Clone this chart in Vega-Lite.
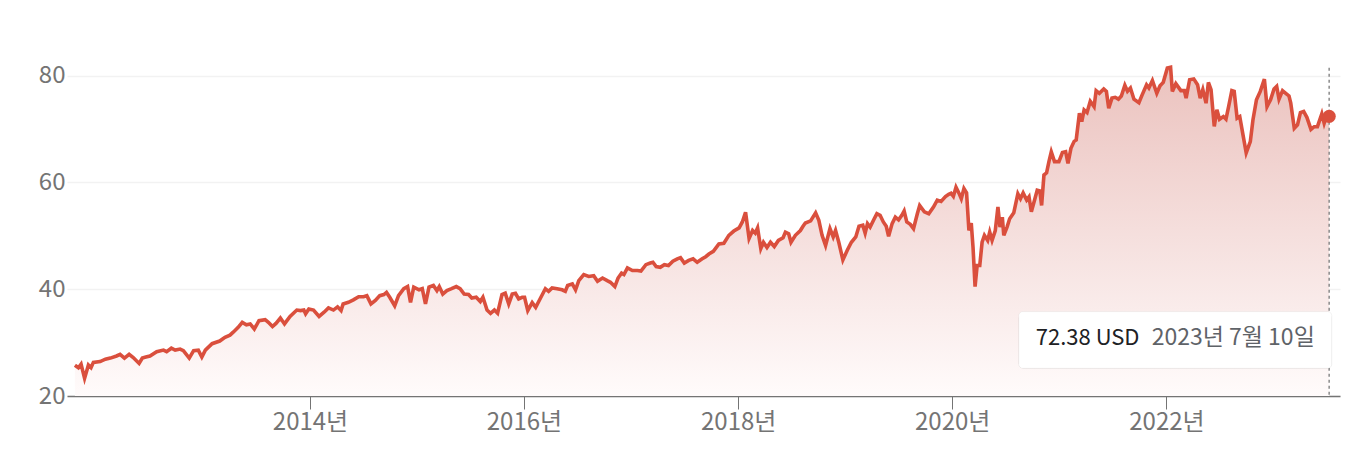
{
  "$schema": "https://vega.github.io/schema/vega-lite/v6.json",
  "width": 1273,
  "height": 347,
  "autosize": {"type": "none"},
  "padding": {"left": 67, "top": 49, "right": 14, "bottom": 54},
  "background": "#ffffff",
  "config": {"view": {"stroke": null}, "font": "Noto Sans CJK KR"},
  "datasets": {
    "prices": [
      {"date":"2011-10-22","price":25.77},{"date":"2011-11-03","price":25.3},{"date":"2011-11-12","price":25.96},{"date":"2011-11-24","price":23.3},
      {"date":"2011-12-07","price":25.8},{"date":"2011-12-16","price":25.3},{"date":"2011-12-24","price":26.3},{"date":"2012-01-16","price":26.45},
      {"date":"2012-02-03","price":26.9},{"date":"2012-02-20","price":27.1},{"date":"2012-03-12","price":27.5},{"date":"2012-03-24","price":27.8},
      {"date":"2012-04-08","price":27.1},{"date":"2012-04-24","price":27.8},{"date":"2012-05-08","price":27.2},{"date":"2012-05-28","price":26.1},
      {"date":"2012-06-08","price":27.1},{"date":"2012-06-20","price":27.3},{"date":"2012-07-04","price":27.5},{"date":"2012-07-27","price":28.3},
      {"date":"2012-08-19","price":28.6},{"date":"2012-08-30","price":28.3},{"date":"2012-09-15","price":28.95},{"date":"2012-09-28","price":28.6},
      {"date":"2012-10-15","price":28.8},{"date":"2012-10-26","price":28.5},{"date":"2012-11-15","price":27.1},{"date":"2012-11-30","price":28.5},
      {"date":"2012-12-16","price":28.6},{"date":"2012-12-28","price":27.3},{"date":"2013-01-09","price":28.6},{"date":"2013-02-01","price":29.8},
      {"date":"2013-02-27","price":30.3},{"date":"2013-03-17","price":31.0},{"date":"2013-04-03","price":31.4},{"date":"2013-04-15","price":32.0},
      {"date":"2013-05-01","price":32.85},{"date":"2013-05-15","price":33.8},{"date":"2013-05-29","price":33.35},{"date":"2013-06-11","price":33.5},
      {"date":"2013-06-25","price":32.55},{"date":"2013-07-11","price":34.1},{"date":"2013-08-01","price":34.3},{"date":"2013-08-12","price":33.8},
      {"date":"2013-08-26","price":33.0},{"date":"2013-09-07","price":33.6},{"date":"2013-09-22","price":34.6},{"date":"2013-10-06","price":33.5},
      {"date":"2013-10-25","price":34.9},{"date":"2013-11-17","price":36.1},{"date":"2013-11-30","price":36.0},{"date":"2013-12-11","price":36.1},
      {"date":"2013-12-17","price":35.4},{"date":"2013-12-28","price":36.3},{"date":"2014-01-13","price":36.1},{"date":"2014-02-01","price":34.9},
      {"date":"2014-02-18","price":35.7},{"date":"2014-03-05","price":36.5},{"date":"2014-03-22","price":36.1},{"date":"2014-04-05","price":36.7},
      {"date":"2014-04-17","price":36.0},{"date":"2014-04-24","price":37.25},{"date":"2014-05-12","price":37.55},{"date":"2014-05-29","price":38.0},
      {"date":"2014-06-16","price":38.6},{"date":"2014-07-03","price":38.6},{"date":"2014-07-14","price":38.8},{"date":"2014-07-28","price":37.25},
      {"date":"2014-08-12","price":37.9},{"date":"2014-08-27","price":38.8},{"date":"2014-09-10","price":39.0},{"date":"2014-09-19","price":39.4},
      {"date":"2014-09-30","price":38.5},{"date":"2014-10-17","price":36.9},{"date":"2014-10-30","price":38.8},{"date":"2014-11-17","price":40.1},
      {"date":"2014-11-30","price":40.5},{"date":"2014-12-10","price":37.55},{"date":"2014-12-21","price":40.4},{"date":"2015-01-08","price":39.9},
      {"date":"2015-01-19","price":40.1},{"date":"2015-01-30","price":37.25},{"date":"2015-02-11","price":40.4},{"date":"2015-02-26","price":40.7},
      {"date":"2015-03-10","price":39.75},{"date":"2015-03-18","price":40.5},{"date":"2015-03-30","price":39.1},{"date":"2015-04-13","price":39.75},
      {"date":"2015-04-29","price":40.1},{"date":"2015-05-15","price":40.5},{"date":"2015-05-28","price":40.1},{"date":"2015-06-11","price":39.1},
      {"date":"2015-06-26","price":39.0},{"date":"2015-07-07","price":38.35},{"date":"2015-07-22","price":38.5},{"date":"2015-08-05","price":37.7},
      {"date":"2015-08-14","price":38.5},{"date":"2015-08-28","price":36.1},{"date":"2015-09-09","price":35.5},{"date":"2015-09-22","price":36.1},
      {"date":"2015-10-03","price":35.5},{"date":"2015-10-18","price":39.0},{"date":"2015-10-29","price":39.25},{"date":"2015-11-10","price":37.25},
      {"date":"2015-11-22","price":39.1},{"date":"2015-12-03","price":39.25},{"date":"2015-12-14","price":38.2},{"date":"2015-12-26","price":38.5},
      {"date":"2016-01-03","price":38.5},{"date":"2016-01-14","price":36.0},{"date":"2016-01-29","price":37.5},{"date":"2016-02-10","price":36.6},
      {"date":"2016-02-27","price":38.4},{"date":"2016-03-14","price":40.1},{"date":"2016-03-25","price":39.6},{"date":"2016-04-06","price":40.25},
      {"date":"2016-04-23","price":40.1},{"date":"2016-05-10","price":39.9},{"date":"2016-05-21","price":39.6},{"date":"2016-05-29","price":40.7},
      {"date":"2016-06-14","price":41.0},{"date":"2016-06-25","price":39.9},{"date":"2016-07-06","price":41.6},{"date":"2016-07-23","price":42.75},
      {"date":"2016-08-09","price":42.4},{"date":"2016-08-26","price":42.55},{"date":"2016-09-08","price":41.5},{"date":"2016-09-25","price":42.1},
      {"date":"2016-10-11","price":41.6},{"date":"2016-10-22","price":41.3},{"date":"2016-11-06","price":40.5},{"date":"2016-11-17","price":42.1},
      {"date":"2016-11-29","price":43.0},{"date":"2016-12-07","price":42.75},{"date":"2016-12-19","price":44.0},{"date":"2017-01-05","price":43.5},
      {"date":"2017-01-22","price":43.5},{"date":"2017-02-03","price":43.4},{"date":"2017-02-20","price":44.6},{"date":"2017-03-07","price":44.9},
      {"date":"2017-03-16","price":45.05},{"date":"2017-03-27","price":44.25},{"date":"2017-04-10","price":44.1},{"date":"2017-04-24","price":44.6},
      {"date":"2017-05-08","price":44.45},{"date":"2017-05-23","price":45.25},{"date":"2017-06-07","price":45.7},{"date":"2017-06-18","price":45.9},
      {"date":"2017-07-01","price":44.9},{"date":"2017-07-16","price":45.4},{"date":"2017-07-31","price":45.7},{"date":"2017-08-14","price":45.05},
      {"date":"2017-08-31","price":45.7},{"date":"2017-09-12","price":46.1},{"date":"2017-09-23","price":46.6},{"date":"2017-10-08","price":47.1},
      {"date":"2017-10-27","price":48.5},{"date":"2017-11-13","price":48.6},{"date":"2017-11-30","price":50.1},{"date":"2017-12-17","price":50.9},
      {"date":"2018-01-04","price":51.5},{"date":"2018-01-15","price":52.6},{"date":"2018-01-26","price":54.4},{"date":"2018-02-07","price":49.5},
      {"date":"2018-02-19","price":51.0},{"date":"2018-02-28","price":50.5},{"date":"2018-03-08","price":51.5},{"date":"2018-03-19","price":47.6},
      {"date":"2018-03-28","price":48.8},{"date":"2018-04-09","price":47.8},{"date":"2018-04-21","price":48.8},{"date":"2018-05-04","price":48.0},
      {"date":"2018-05-18","price":49.15},{"date":"2018-06-03","price":49.65},{"date":"2018-06-11","price":50.7},{"date":"2018-06-22","price":50.4},
      {"date":"2018-06-30","price":48.8},{"date":"2018-07-15","price":50.1},{"date":"2018-08-01","price":51.0},{"date":"2018-08-10","price":51.8},
      {"date":"2018-08-18","price":52.4},{"date":"2018-09-05","price":52.8},{"date":"2018-09-22","price":54.3},{"date":"2018-10-03","price":52.9},
      {"date":"2018-10-14","price":50.1},{"date":"2018-10-26","price":48.2},{"date":"2018-11-10","price":51.35},{"date":"2018-11-21","price":49.8},
      {"date":"2018-11-29","price":51.0},{"date":"2018-12-10","price":48.8},{"date":"2018-12-24","price":45.5},{"date":"2019-01-08","price":47.3},
      {"date":"2019-01-22","price":48.8},{"date":"2019-02-06","price":49.8},{"date":"2019-02-17","price":51.8},{"date":"2019-03-02","price":52.0},
      {"date":"2019-03-10","price":50.5},{"date":"2019-03-18","price":52.3},{"date":"2019-03-27","price":51.65},{"date":"2019-04-10","price":53.2},
      {"date":"2019-04-19","price":54.15},{"date":"2019-04-30","price":53.85},{"date":"2019-05-11","price":52.6},{"date":"2019-05-21","price":51.8},
      {"date":"2019-05-29","price":49.9},{"date":"2019-06-10","price":52.3},{"date":"2019-06-21","price":53.5},{"date":"2019-07-02","price":53.0},
      {"date":"2019-07-13","price":53.85},{"date":"2019-07-21","price":54.65},{"date":"2019-07-30","price":52.6},{"date":"2019-08-11","price":52.15},
      {"date":"2019-08-22","price":51.35},{"date":"2019-09-04","price":54.15},{"date":"2019-09-12","price":55.7},{"date":"2019-09-28","price":54.5},
      {"date":"2019-10-13","price":54.15},{"date":"2019-10-29","price":55.4},{"date":"2019-11-11","price":56.7},{"date":"2019-11-24","price":56.45},
      {"date":"2019-12-09","price":57.35},{"date":"2019-12-20","price":57.8},{"date":"2019-12-28","price":58.0},{"date":"2020-01-05","price":57.4},
      {"date":"2020-01-14","price":59.1},{"date":"2020-01-24","price":58.0},{"date":"2020-02-01","price":56.95},{"date":"2020-02-10","price":58.85},
      {"date":"2020-02-19","price":58.05},{"date":"2020-02-27","price":51.0},{"date":"2020-03-06","price":52.4},{"date":"2020-03-12","price":47.9},
      {"date":"2020-03-19","price":40.5},{"date":"2020-03-26","price":44.45},{"date":"2020-04-04","price":44.45},{"date":"2020-04-12","price":48.8},
      {"date":"2020-04-20","price":50.1},{"date":"2020-05-01","price":49.15},{"date":"2020-05-08","price":50.7},{"date":"2020-05-16","price":49.15},
      {"date":"2020-05-27","price":51.0},{"date":"2020-06-05","price":55.4},{"date":"2020-06-12","price":51.65},{"date":"2020-06-20","price":53.5},
      {"date":"2020-06-25","price":50.1},{"date":"2020-07-06","price":51.65},{"date":"2020-07-15","price":53.2},{"date":"2020-07-29","price":54.3},
      {"date":"2020-08-12","price":57.9},{"date":"2020-08-21","price":56.95},{"date":"2020-08-30","price":58.05},{"date":"2020-09-11","price":56.7},
      {"date":"2020-09-19","price":57.3},{"date":"2020-09-27","price":54.5},{"date":"2020-10-08","price":56.7},{"date":"2020-10-17","price":58.55},
      {"date":"2020-10-26","price":58.4},{"date":"2020-11-01","price":55.7},{"date":"2020-11-09","price":61.4},{"date":"2020-11-18","price":61.8},
      {"date":"2020-11-26","price":63.9},{"date":"2020-12-04","price":65.75},{"date":"2020-12-15","price":63.9},{"date":"2020-12-30","price":63.9},
      {"date":"2021-01-11","price":65.6},{"date":"2021-01-22","price":65.75},{"date":"2021-01-30","price":63.55},{"date":"2021-02-09","price":66.4},
      {"date":"2021-02-20","price":67.7},{"date":"2021-02-27","price":67.95},{"date":"2021-03-10","price":72.95},{"date":"2021-03-18","price":71.4},
      {"date":"2021-03-26","price":73.6},{"date":"2021-04-05","price":73.1},{"date":"2021-04-16","price":75.2},{"date":"2021-04-29","price":74.2},
      {"date":"2021-05-06","price":77.2},{"date":"2021-05-17","price":76.7},{"date":"2021-06-01","price":77.5},{"date":"2021-06-10","price":77.05},
      {"date":"2021-06-18","price":73.9},{"date":"2021-06-29","price":75.8},{"date":"2021-07-10","price":75.95},{"date":"2021-07-21","price":75.6},
      {"date":"2021-07-31","price":76.2},{"date":"2021-08-12","price":78.2},{"date":"2021-08-21","price":77.1},{"date":"2021-08-31","price":77.7},
      {"date":"2021-09-12","price":75.6},{"date":"2021-09-29","price":74.95},{"date":"2021-10-10","price":76.4},{"date":"2021-10-25","price":78.3},
      {"date":"2021-11-02","price":77.7},{"date":"2021-11-14","price":79.1},{"date":"2021-11-29","price":76.7},{"date":"2021-12-10","price":78.1},
      {"date":"2021-12-21","price":78.75},{"date":"2022-01-04","price":81.45},{"date":"2022-01-15","price":81.6},{"date":"2022-01-21","price":77.05},
      {"date":"2022-02-02","price":78.5},{"date":"2022-02-19","price":77.2},{"date":"2022-03-03","price":77.2},{"date":"2022-03-09","price":75.8},
      {"date":"2022-03-21","price":79.25},{"date":"2022-04-04","price":79.4},{"date":"2022-04-17","price":78.3},{"date":"2022-04-26","price":75.8},
      {"date":"2022-05-05","price":77.4},{"date":"2022-05-16","price":74.85},{"date":"2022-05-24","price":78.75},{"date":"2022-06-02","price":77.4},
      {"date":"2022-06-13","price":70.5},{"date":"2022-06-22","price":73.6},{"date":"2022-07-01","price":71.85},{"date":"2022-07-14","price":72.35},
      {"date":"2022-07-23","price":71.85},{"date":"2022-08-01","price":74.2},{"date":"2022-08-12","price":77.2},{"date":"2022-08-20","price":77.05},
      {"date":"2022-08-30","price":72.05},{"date":"2022-09-08","price":72.35},{"date":"2022-09-16","price":69.85},{"date":"2022-09-30","price":65.55},
      {"date":"2022-10-14","price":67.65},{"date":"2022-10-23","price":71.7},{"date":"2022-11-04","price":75.5},{"date":"2022-11-17","price":77.05},
      {"date":"2022-12-01","price":79.35},{"date":"2022-12-10","price":74.2},{"date":"2022-12-22","price":75.5},{"date":"2023-01-03","price":77.5},
      {"date":"2023-01-12","price":78.0},{"date":"2023-01-20","price":75.6},{"date":"2023-02-01","price":77.2},{"date":"2023-02-12","price":76.7},
      {"date":"2023-02-23","price":76.2},{"date":"2023-03-01","price":74.85},{"date":"2023-03-13","price":70.15},{"date":"2023-03-24","price":70.8},
      {"date":"2023-04-03","price":73.1},{"date":"2023-04-14","price":73.3},{"date":"2023-04-25","price":72.2},{"date":"2023-05-09","price":69.95},
      {"date":"2023-05-20","price":70.45},{"date":"2023-05-31","price":70.45},{"date":"2023-06-15","price":72.85},{"date":"2023-06-23","price":71.1},
      {"date":"2023-07-02","price":72.65},{"date":"2023-07-10","price":72.38}
    ],
    "tip": [
      {"date":"2023-07-10","price":72.38,"price_text":"72.38 USD","date_text":"2023년 7월 10일"}
    ]
  },
  "encoding": {
    "x": {
      "field": "date",
      "type": "temporal",
      "scale": {"type": "utc", "domain": [{"year":2011,"month":9,"date":25,"utc":true},{"year":2023,"month":8,"date":16,"utc":true}]},
      "axis": {
        "title": null,
        "values": [{"year":2014,"month":1,"date":1,"utc":true},{"year":2016,"month":1,"date":1,"utc":true},{"year":2018,"month":1,"date":1,"utc":true},{"year":2020,"month":1,"date":1,"utc":true},{"year":2022,"month":1,"date":1,"utc":true}],
        "labelExpr": "utcFormat(datum.value, '%Y') + '년'",
        "grid": false,
        "domain": true,
        "domainColor": "#747474",
        "domainWidth": 1.5,
        "ticks": true,
        "tickColor": "#747474",
        "tickWidth": 1,
        "tickSize": 13,
        "labelPadding": 1,
        "labelFont": "Noto Sans CJK KR",
        "labelFontSize": 24,
        "labelColor": "#747474"
      }
    },
    "y": {
      "field": "price",
      "type": "quantitative",
      "scale": {"domain": [20, 85], "zero": false, "nice": false},
      "axis": {
        "title": null,
        "values": [20, 40, 60, 80],
        "grid": true,
        "gridColor": "#f2f2f2",
        "gridWidth": 1.5,
        "domain": false,
        "ticks": false,
        "labelPadding": 2,
        "labelFont": "Noto Sans CJK KR",
        "labelFontSize": 24,
        "labelColor": "#747474"
      }
    }
  },
  "layer": [
    {
      "data": {"name": "prices"},
      "mark": {
        "type": "area",
        "color": {
          "gradient": "linear",
          "x1": 1, "y1": 1, "x2": 1, "y2": 0,
          "stops": [
            {"offset": 0, "color": "#fffbfb"},
            {"offset": 1, "color": "#ebc2be"}
          ]
        }
      },
      "encoding": {"y2": {"datum": 20}}
    },
    {
      "data": {"name": "prices"},
      "mark": {"type": "line", "color": "#da4f3d", "strokeWidth": 3.6, "strokeJoin": "miter"}
    },
    {
      "data": {"name": "tip"},
      "mark": {"type": "rule", "color": "#8a8a8a", "strokeWidth": 1.5, "strokeDash": [3, 3]},
      "encoding": {"y": {"datum": 81.5}, "y2": {"datum": 20}}
    },
    {
      "data": {"name": "tip"},
      "mark": {"type": "point", "filled": true, "opacity": 1, "color": "#da4f3d", "size": 175}
    },
    {
      "data": {"name": "tip"},
      "mark": {"type": "rect", "color": "#000000", "opacity": 0.13, "cornerRadius": 5, "yOffset": 2},
      "encoding": {
        "x": {"datum": {"year":2020,"month":8,"date":15,"utc":true}, "type": "temporal"},
        "x2": {"datum": {"year":2023,"month":7,"date":19,"utc":true}},
        "y": {"datum": 35.81},
        "y2": {"datum": 25.19}
      }
    },
    {
      "data": {"name": "tip"},
      "mark": {"type": "rect", "color": "#ffffff", "opacity": 1, "cornerRadius": 4, "stroke": "#000000", "strokeOpacity": 0.05},
      "encoding": {
        "x": {"datum": {"year":2020,"month":8,"date":15,"utc":true}, "type": "temporal"},
        "x2": {"datum": {"year":2023,"month":7,"date":19,"utc":true}},
        "y": {"datum": 35.81},
        "y2": {"datum": 25.19}
      }
    },
    {
      "data": {"name": "tip"},
      "mark": {"type": "text", "align": "left", "baseline": "middle", "dx": 17, "font": "Noto Sans CJK KR", "fontSize": 22, "color": "#202124"},
      "encoding": {
        "x": {"datum": {"year":2020,"month":8,"date":15,"utc":true}, "type": "temporal"},
        "y": {"datum": 30.9},
        "text": {"field": "price_text"}
      }
    },
    {
      "data": {"name": "tip"},
      "mark": {"type": "text", "align": "right", "baseline": "middle", "dx": -17, "font": "Noto Sans CJK KR", "fontSize": 23, "color": "#5f6368"},
      "encoding": {
        "x": {"datum": {"year":2023,"month":7,"date":19,"utc":true}, "type": "temporal"},
        "y": {"datum": 30.9},
        "text": {"field": "date_text"}
      }
    }
  ]
}
